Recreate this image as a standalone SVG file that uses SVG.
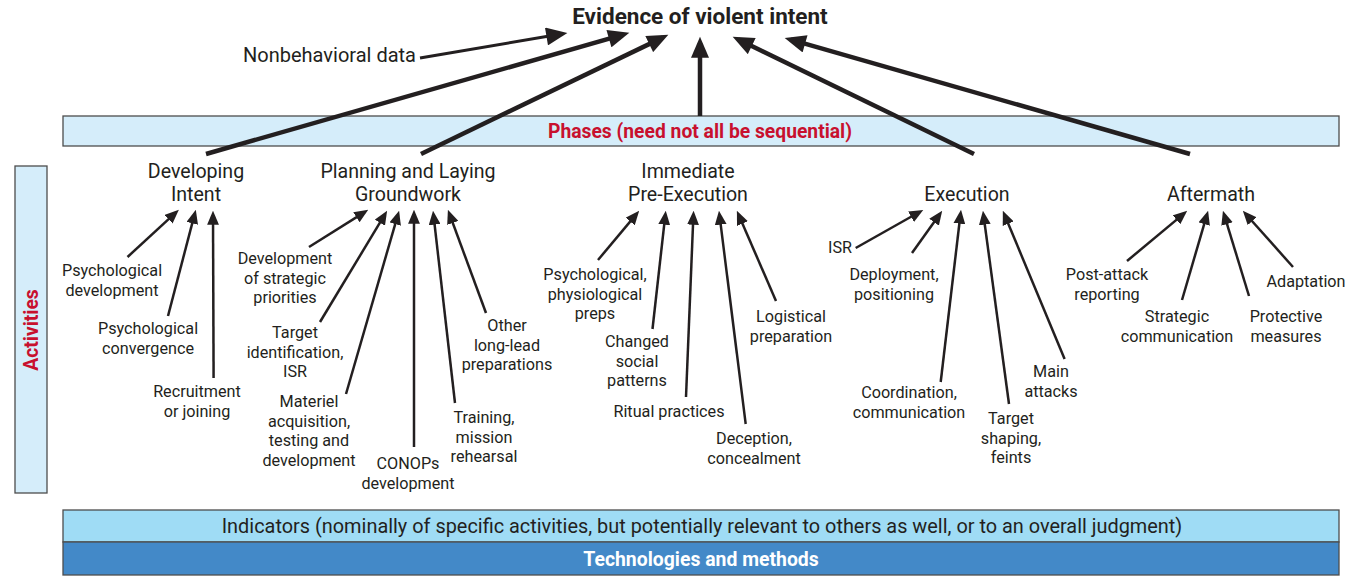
<svg xmlns="http://www.w3.org/2000/svg" width="1357" height="582" viewBox="0 0 1357 582">
<style>
text{font-family:Roboto,"Liberation Sans",sans-serif;fill:#231f20}
.lbl{font-size:16.2px;text-anchor:middle}
.ph{font-size:19.6px;text-anchor:middle}
.bar{fill:#d5edfa;stroke:#4d4d4d;stroke-width:1.3}
.red{fill:#c8102e;font-weight:bold}
.thick{stroke:#231f20;stroke-width:4.5;fill:none;marker-end:url(#big)}
.mid{stroke:#231f20;stroke-width:3;fill:none;marker-end:url(#big)}
.thin{stroke:#231f20;stroke-width:2.5;fill:none;marker-end:url(#small)}
</style>
<defs>
<marker id="big" markerUnits="userSpaceOnUse" markerWidth="22" markerHeight="18" refX="14" refY="8.5" orient="auto" viewBox="0 0 20 17">
<path d="M0,0 L20,8.5 L0,17 Z" fill="#231f20"/>
</marker>
<marker id="small" markerUnits="userSpaceOnUse" markerWidth="14" markerHeight="12" refX="9" refY="5.5" orient="auto" viewBox="0 0 13 11">
<path d="M0,0 L13,5.5 L0,11 Z" fill="#231f20"/>
</marker>
</defs>
<rect width="1357" height="582" fill="#ffffff"/>

<g id="phases-bar">
<rect class="bar" x="63" y="116" width="1276" height="30"/>
<text class="red" x="700" y="138" font-size="19.3" text-anchor="middle">Phases (need not all be sequential)</text>
</g>

<g id="activities-bar">
<rect class="bar" x="15" y="166" width="32" height="327"/>
<text class="red" font-size="19.3" text-anchor="middle" transform="translate(38,330) rotate(-90)">Activities</text>
</g>

<g id="indicators">
<rect x="63" y="510" width="1276" height="32" fill="#9fdcf5" stroke="#4d4d4d" stroke-width="1.3"/>
<text x="702" y="533" font-size="19.9" text-anchor="middle">Indicators (nominally of specific activities, but potentially relevant to others as well, or to an overall judgment)</text>
</g>
<g id="technologies">
<rect x="63" y="542" width="1276" height="33" fill="#4389c8" stroke="#4d4d4d" stroke-width="1.3"/>
<text x="701" y="566" font-size="19.4" font-weight="bold" text-anchor="middle" style="fill:#ffffff">Technologies and methods</text>
</g>

<g id="title"><text x="700" y="24" font-size="22.5" font-weight="bold" text-anchor="middle">Evidence of violent intent</text></g>
<g id="nonbehavioral"><text x="329.5" y="61.5" font-size="20" text-anchor="middle">Nonbehavioral data</text></g>

<g id="phase-developing"><text class="ph" x="196"><tspan x="196" y="177.5">Developing</tspan><tspan x="196" y="200.5">Intent</tspan></text></g>
<g id="phase-planning"><text class="ph" x="408"><tspan x="408" y="177.5">Planning and Laying</tspan><tspan x="408" y="200.5">Groundwork</tspan></text></g>
<g id="phase-immediate"><text class="ph" x="688"><tspan x="688" y="177.5">Immediate</tspan><tspan x="688" y="200.5">Pre-Execution</tspan></text></g>
<g id="phase-execution"><text class="ph" x="967" y="200.5">Execution</text></g>
<g id="phase-aftermath"><text class="ph" x="1211" y="200.5">Aftermath</text></g>

<g id="act-psych-dev"><text class="lbl"><tspan x="112" y="276">Psychological</tspan><tspan x="112" y="295.5">development</tspan></text></g>
<g id="act-psych-conv"><text class="lbl"><tspan x="148" y="334">Psychological</tspan><tspan x="148" y="353.5">convergence</tspan></text></g>
<g id="act-recruit"><text class="lbl"><tspan x="197" y="397">Recruitment</tspan><tspan x="197" y="416.5">or joining</tspan></text></g>

<g id="act-strategic"><text class="lbl"><tspan x="285" y="264">Development</tspan><tspan x="285" y="283.5">of strategic</tspan><tspan x="285" y="303">priorities</tspan></text></g>
<g id="act-target-id"><text class="lbl"><tspan x="295" y="338">Target</tspan><tspan x="295" y="357.5">identification,</tspan><tspan x="295" y="377">ISR</tspan></text></g>
<g id="act-materiel"><text class="lbl"><tspan x="309" y="407">Materiel</tspan><tspan x="309" y="426.5">acquisition,</tspan><tspan x="309" y="446">testing and</tspan><tspan x="309" y="465.5">development</tspan></text></g>
<g id="act-conops"><text class="lbl"><tspan x="408" y="469">CONOPs</tspan><tspan x="408" y="488.5">development</tspan></text></g>
<g id="act-training"><text class="lbl"><tspan x="484" y="423">Training,</tspan><tspan x="484" y="442.5">mission</tspan><tspan x="484" y="462">rehearsal</tspan></text></g>
<g id="act-longlead"><text class="lbl"><tspan x="507" y="331">Other</tspan><tspan x="507" y="350.5">long-lead</tspan><tspan x="507" y="370">preparations</tspan></text></g>

<g id="act-psych-preps"><text class="lbl"><tspan x="595" y="280">Psychological,</tspan><tspan x="595" y="299.5">physiological</tspan><tspan x="595" y="319">preps</tspan></text></g>
<g id="act-social"><text class="lbl"><tspan x="637" y="347">Changed</tspan><tspan x="637" y="366.5">social</tspan><tspan x="637" y="386">patterns</tspan></text></g>
<g id="act-ritual"><text class="lbl" x="669" y="417">Ritual practices</text></g>
<g id="act-deception"><text class="lbl"><tspan x="754" y="444">Deception,</tspan><tspan x="754" y="463.5">concealment</tspan></text></g>
<g id="act-logistical"><text class="lbl"><tspan x="791" y="322">Logistical</tspan><tspan x="791" y="341.5">preparation</tspan></text></g>

<g id="act-isr"><text class="lbl" x="840" y="253">ISR</text></g>
<g id="act-deployment"><text class="lbl"><tspan x="894" y="280">Deployment,</tspan><tspan x="894" y="299.5">positioning</tspan></text></g>
<g id="act-coordination"><text class="lbl"><tspan x="909" y="398">Coordination,</tspan><tspan x="909" y="417.5">communication</tspan></text></g>
<g id="act-shaping"><text class="lbl"><tspan x="1011" y="424">Target</tspan><tspan x="1011" y="443.5">shaping,</tspan><tspan x="1011" y="463">feints</tspan></text></g>
<g id="act-main"><text class="lbl"><tspan x="1051" y="377">Main</tspan><tspan x="1051" y="396.5">attacks</tspan></text></g>

<g id="act-postattack"><text class="lbl"><tspan x="1107" y="280">Post-attack</tspan><tspan x="1107" y="299.5">reporting</tspan></text></g>
<g id="act-stratcomm"><text class="lbl"><tspan x="1177" y="322">Strategic</tspan><tspan x="1177" y="341.5">communication</tspan></text></g>
<g id="act-protective"><text class="lbl"><tspan x="1286" y="322">Protective</tspan><tspan x="1286" y="341.5">measures</tspan></text></g>
<g id="act-adaptation"><text class="lbl" x="1306" y="287">Adaptation</text></g>

<g id="connectors">
<line class="mid" x1="420" y1="58" x2="561.1" y2="34.0"/>
<line class="thick" x1="206" y1="154" x2="623.2" y2="34.6"/>
<line class="thick" x1="421" y1="154" x2="662.6" y2="37.6"/>
<line class="thick" x1="700" y1="116" x2="700" y2="43"/>
<line class="thick" x1="974" y1="154" x2="738.4" y2="39.6"/>
<line class="thick" x1="1190" y1="154" x2="790.8" y2="39.7"/>

<line class="thin" x1="127.5" y1="257" x2="175.7" y2="212.7"/>
<line class="thin" x1="168" y1="316" x2="194.7" y2="213.9"/>
<line class="thin" x1="213.6" y1="378" x2="213" y2="215"/>

<line class="thin" x1="309" y1="247" x2="364.6" y2="212.1"/>
<line class="thin" x1="320" y1="322" x2="384.9" y2="214.4"/>
<line class="thin" x1="346" y1="394" x2="397.9" y2="214.8"/>
<line class="thin" x1="414" y1="447" x2="414" y2="214"/>
<line class="thin" x1="455" y1="403" x2="433.5" y2="215"/>
<line class="thin" x1="486" y1="313" x2="449.4" y2="213.8"/>

<line class="thin" x1="598" y1="260" x2="636.4" y2="214.1"/>
<line class="thin" x1="652.5" y1="329" x2="665.3" y2="215"/>
<line class="thin" x1="686" y1="397" x2="693.4" y2="215"/>
<line class="thin" x1="745.7" y1="424" x2="719.5" y2="215"/>
<line class="thin" x1="776" y1="301" x2="738.6" y2="214.7"/>

<line class="thin" x1="855.7" y1="248" x2="919.5" y2="212"/>
<line class="thin" x1="912" y1="253" x2="939.7" y2="214.3"/>
<line class="thin" x1="940.7" y1="382" x2="960.5" y2="214"/>
<line class="thin" x1="1009" y1="404" x2="983.5" y2="215"/>
<line class="thin" x1="1064.6" y1="359" x2="1004.5" y2="214.7"/>

<line class="thin" x1="1127" y1="261" x2="1183.9" y2="213.6"/>
<line class="thin" x1="1182" y1="300" x2="1206.9" y2="214.8"/>
<line class="thin" x1="1249" y1="296" x2="1224.2" y2="214.8"/>
<line class="thin" x1="1293" y1="267" x2="1245.7" y2="214"/>
</g>
</svg>
